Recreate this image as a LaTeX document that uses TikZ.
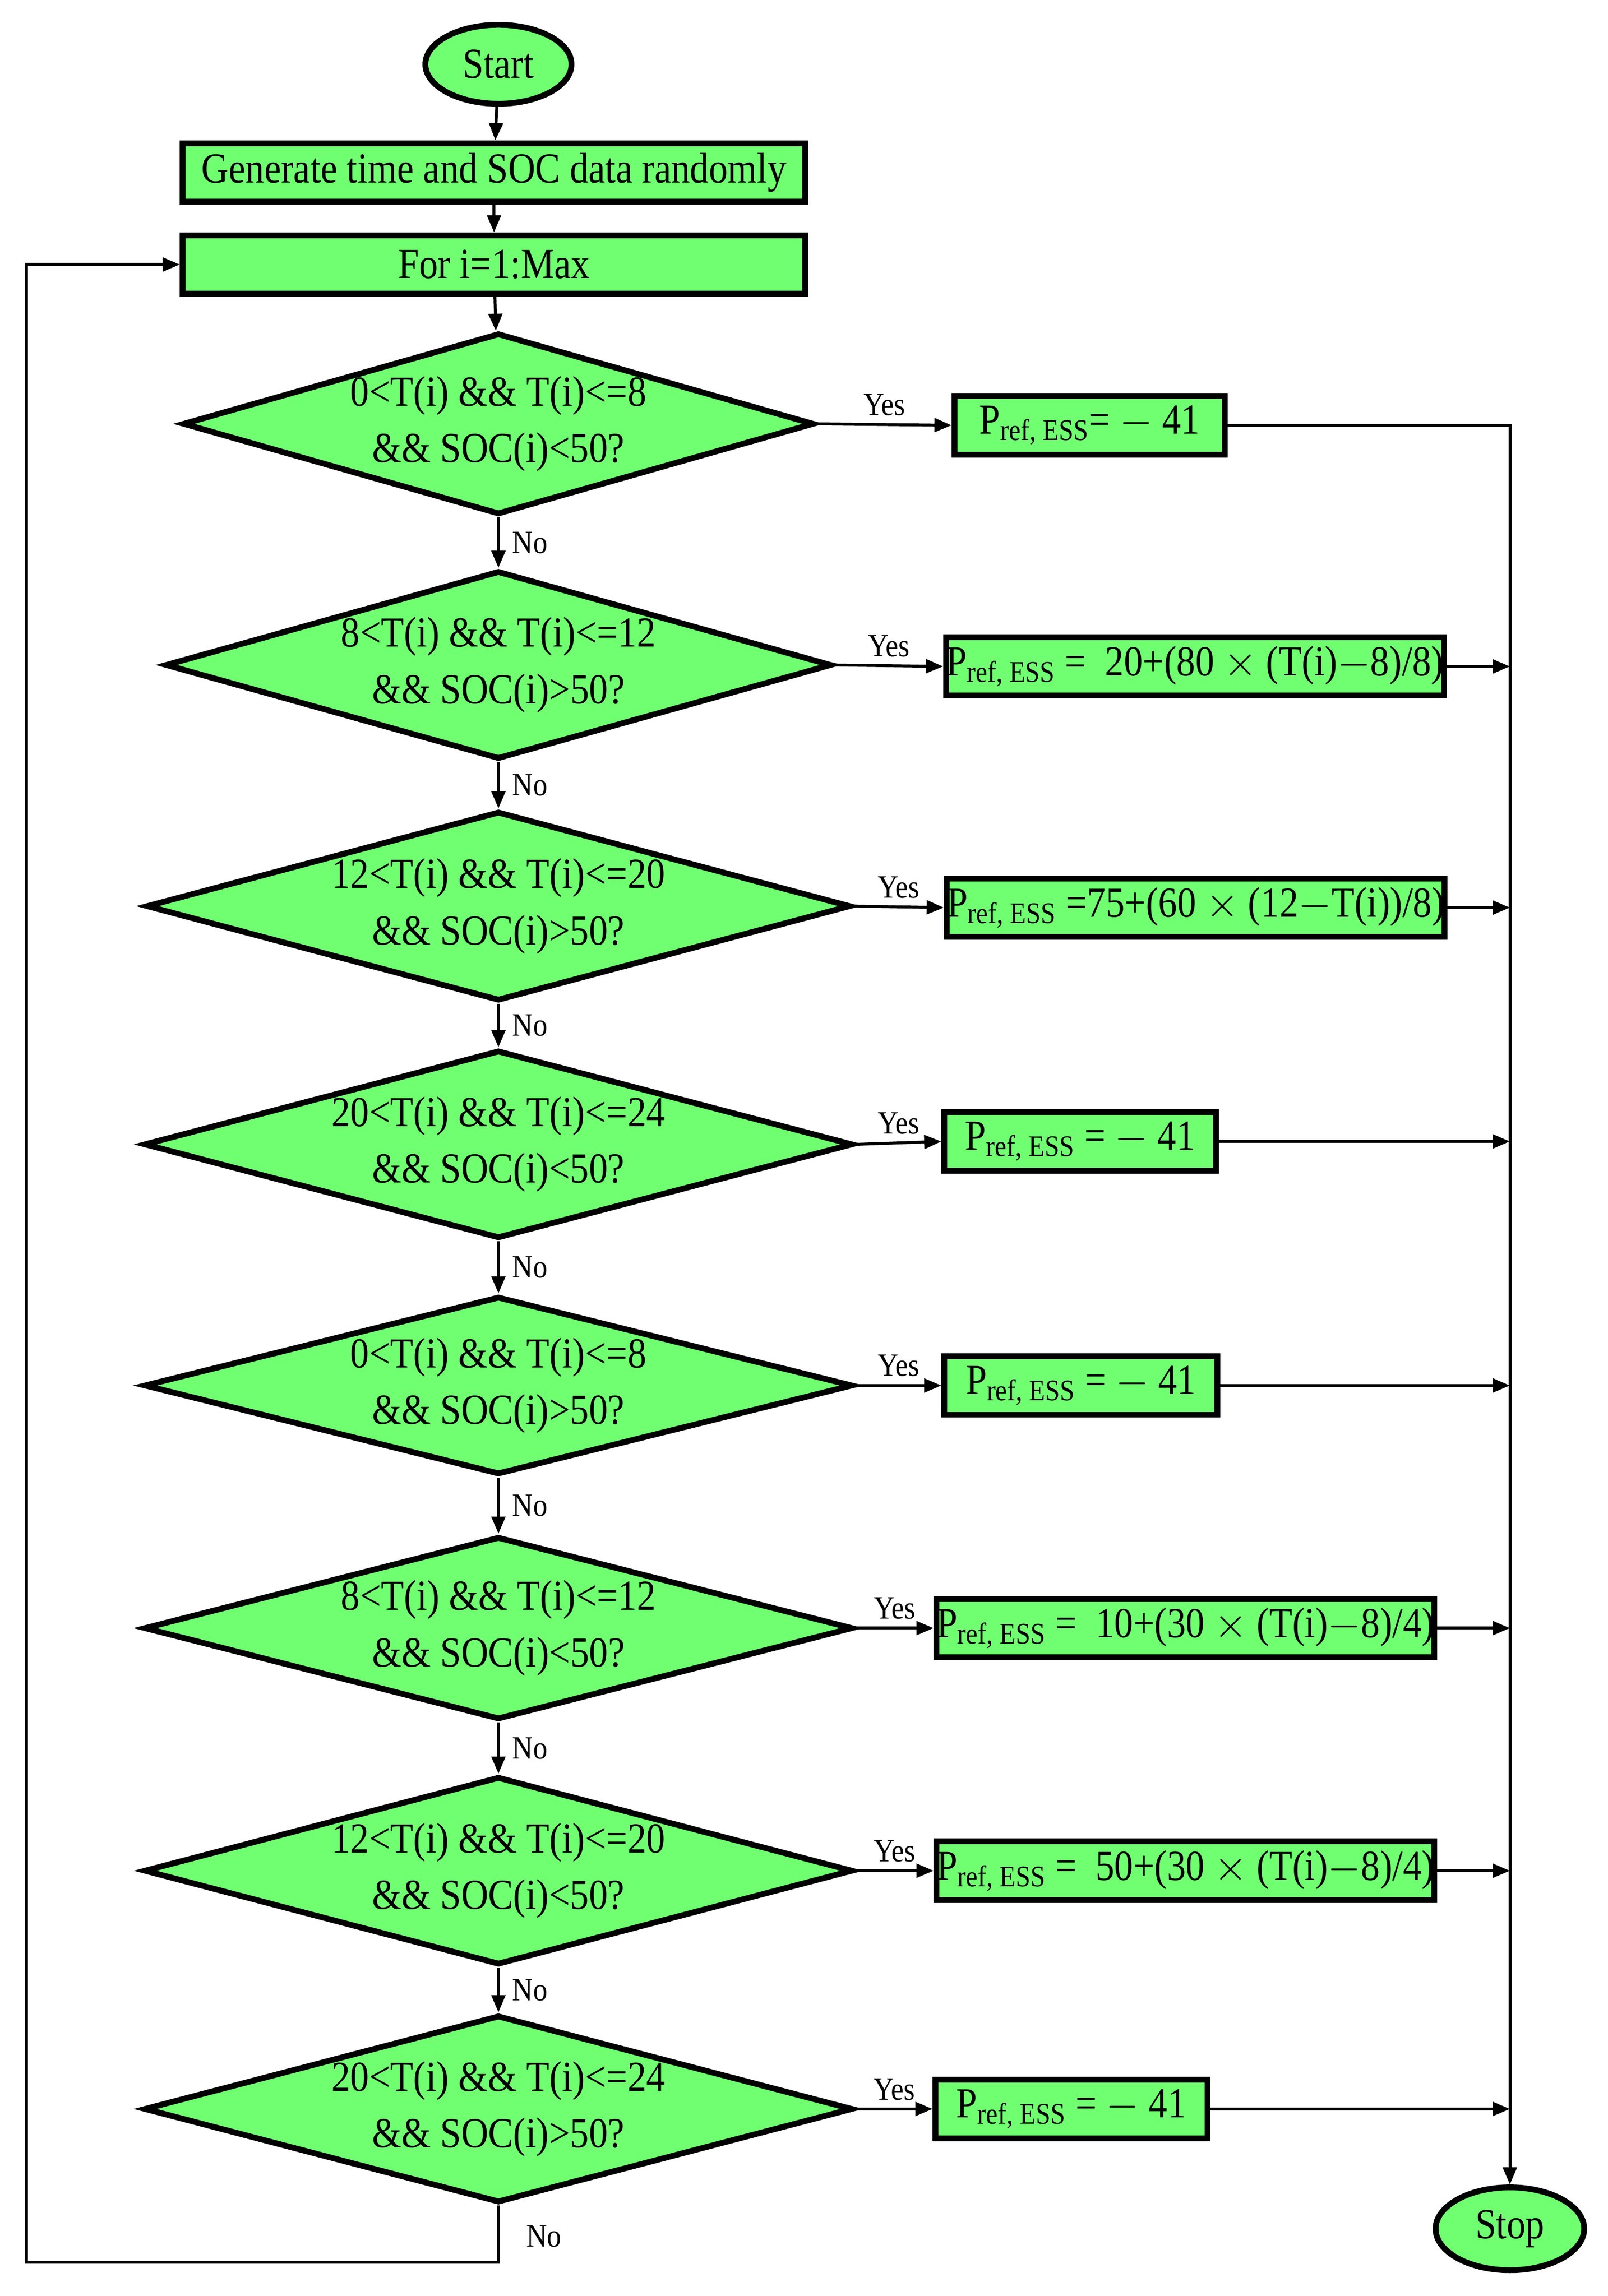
\documentclass[tikz,border=0pt]{standalone}
\usepackage{fontspec}
\setmainfont{Liberation Serif}[FakeStretch=0.88]
\usetikzlibrary{shapes.geometric,arrows.meta}
\definecolor{g}{HTML}{70FF70}
\begin{document}
\begin{tikzpicture}[x=0.03cm,y=-0.03cm,
 font=\fontsize{25}{29}\selectfont,
 box/.style={draw,fill=g,line width=3.4pt,inner sep=0pt,minimum height=1.2cm},
 dia/.style={diamond,draw,fill=g,line width=3.4pt,inner sep=0pt,align=center,aspect=3.5,font=\fontsize{25}{33}\selectfont},
 term/.style={ellipse,draw,fill=g,line width=3.4pt,minimum width=3cm,minimum height=1.62cm},
 ar/.style={-{Triangle[length=10pt,width=8pt]},line width=1.7pt},
 lab/.style={font=\fontsize{19}{22}\selectfont}]
\useasboundingbox (0,0) rectangle (1100,1571);
\node[term] (start) at (341,44) {Start};
\node[box,minimum width=12.78cm] (gen) at (338,118) {Generate time and SOC data randomly};
\node[box,minimum width=12.78cm] (for) at (338,181) {For i=1:Max};
\node[dia,minimum width=12.96cm,aspect=3.43] (d1) at (341,290) {0<T(i) \&\& T(i)<=8\\\&\& SOC(i)<50?};
\node[dia,minimum width=13.68cm,aspect=3.38] (d2) at (341,455) {8<T(i) \&\& T(i)<=12\\\&\& SOC(i)>50?};
\node[dia,minimum width=14.46cm,aspect=3.54] (d3) at (341,620) {12<T(i) \&\& T(i)<=20\\\&\& SOC(i)>50?};
\node[dia,minimum width=14.55cm,aspect=3.59] (d4) at (341,783) {20<T(i) \&\& T(i)<=24\\\&\& SOC(i)<50?};
\node[dia,minimum width=14.55cm,aspect=3.57] (d5) at (341,948) {0<T(i) \&\& T(i)<=8\\\&\& SOC(i)>50?};
\node[dia,minimum width=14.55cm,aspect=3.59] (d6) at (341,1114) {8<T(i) \&\& T(i)<=12\\\&\& SOC(i)<50?};
\node[dia,minimum width=14.55cm,aspect=3.59] (d7) at (341,1280) {12<T(i) \&\& T(i)<=20\\\&\& SOC(i)<50?};
\node[dia,minimum width=14.55cm,aspect=3.62] (d8) at (341,1443) {20<T(i) \&\& T(i)<=24\\\&\& SOC(i)>50?};
\node[box,minimum width=5.55cm] (b1) at (745.5,291) {P\textsubscript{ref, ESS}= $-$ 41};
\node[box,minimum width=9.87cm] (b2) at (817.5,456) {P\textsubscript{ref, ESS} = \ 20+(80 $\times$ (T(i)$-$8)/8)};
\node[box,minimum width=10.02cm] (b3) at (818,621) {P\textsubscript{ref, ESS} =75+(60 $\times$ (12$-$T(i))/8)};
\node[box,minimum width=5.58cm] (b4) at (739,781) {P\textsubscript{ref, ESS} = $-$ 41};
\node[box,minimum width=5.61cm] (b5) at (739.5,948) {P\textsubscript{ref, ESS} = $-$ 41};
\node[box,minimum width=10.14cm] (b6) at (811,1114) {P\textsubscript{ref, ESS} = \ 10+(30 $\times$ (T(i)$-$8)/4)};
\node[box,minimum width=10.14cm] (b7) at (811,1280) {P\textsubscript{ref, ESS} = \ 50+(30 $\times$ (T(i)$-$8)/4)};
\node[box,minimum width=5.58cm] (b8) at (733,1443) {P\textsubscript{ref, ESS} = $-$ 41};
\node[term,minimum width=3.05cm,minimum height=1.7cm] (stop) at (1033,1525) {Stop};
\draw[ar] (start) -- (gen);
\draw[ar] (gen) -- (for);
\draw[ar] (for) -- (d1);
\foreach \a/\b in {d1/d2,d2/d3,d3/d4,d4/d5,d5/d6,d6/d7,d7/d8}
  \draw[ar] (\a.south) -- (\b.north) node[lab,pos=0.5,right=4pt]{No};
\foreach \i in {1,...,8}
  \draw[ar] (d\i.east) -- (b\i.west) node[lab,pos=0.5,above=1pt]{Yes};
\draw[ar] (b1.east) -- (1033,291) -- (stop.north);
\foreach \i in {2,...,8}{
  \coordinate (r\i) at (1033,0);
  \draw[ar] (b\i.east) -- (b\i.east -| r\i);}
\coordinate (c1) at (341,1548);
\coordinate (c2) at (18,1548);
\coordinate (c3) at (18,181);
\draw[ar] (d8.south) -- (c1) -- (c2) -- (c3) -- (for.west);
\node[lab] at (372,1530) {No};
\end{tikzpicture}
\end{document}
